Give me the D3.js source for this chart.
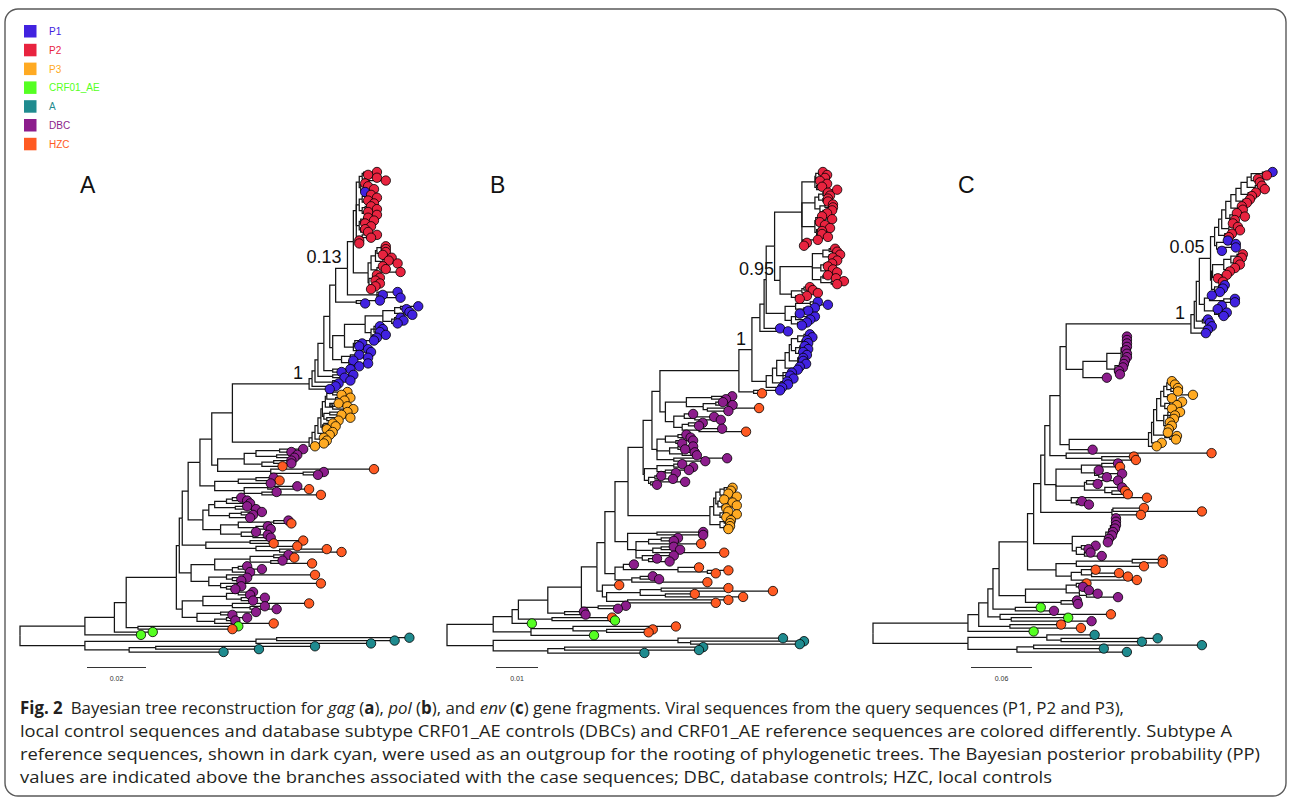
<!DOCTYPE html>
<html lang="en">
<head>
<meta charset="UTF-8">
<title>Fig. 2 Bayesian trees for gag, pol and env</title>
<script src="https://d3js.org/d3.v7.min.js"></script>
<style>
  body { margin: 0; background: #fff; }
  svg { display: block; }
  .branch { fill: none; stroke: #151515; stroke-width: 1.25px; }
  .tip { stroke: #000; stroke-width: 0.8px; }
  .support { font: 18px "Liberation Sans", Arial, sans-serif; fill: #111; }
  .panel-letter { font: 23px "Liberation Sans", Arial, sans-serif; fill: #111; }
  .bar { stroke: #333; stroke-width: 1.2px; }
  .bar-label { font: 7px "Liberation Sans", Arial, sans-serif; fill: #333; }
  .legend-label { font: 10px "Liberation Sans", Arial, sans-serif; }
  .caption { font: 17px "Open Sans", "Noto Sans", sans-serif; fill: #231f20; }
</style>
</head>
<body>
<svg id="fig" width="1290" height="799"></svg>
<script>
// groups, their one-letter codes used in the tree strings, and colours
const groups = ["P1", "P2", "P3", "CRF01_AE", "A", "DBC", "HZC"];
const groupCodes = ["b", "r", "y", "g", "c", "d", "h"];
const groupColors = ["#4122E0", "#E8233F", "#FFAA22", "#55FF22", "#1F8B8F", "#8C1D8C", "#FF5A22"];

const panelLetters = ["A", "B", "C"];
const scaleBarValues = [0.02, 0.01, 0.06];

// Trees: newick-like, tip = group code + root distance, ")n" = node root distance,
// both in 0.001 substitutions/site; "@name" pulls in another clade; "#x" = posterior.
const gagTree = [
  ["root", "(@ingroup,@outgroup)0"],
  ["outgroup", "(((c132,c127)87,c119)80,((c100,c81)46,c69)37)22"],
  ["ingroup", "((((@spine,@base1)53,(g74,h72)40)36,g45)32,g41)22"],
  ["spine", "((((((@query,@p3)72,@base6)65,@base5)61,@base4)57,@base3)55,@base2)54"],
  ["query", "(((((@p1stem,(b112,b109)106)103,(b113,b110)106)101,(b112,b108)106)100,b107)99,b105)98#1"],
  ["p1stem", "((((@p2top,@p2low)113,(b128,b123,b129)121)111#0.13,(b122,b117)114)107,@p1diag)105"],
  ["p2top", "((((r121,r118)116.5,(r121,r124)117)116,((r117,r118)116,(r120,b117)116)115.5)115,(((r119,r121)117,(r118,r120)117)116,((r119,r121)117,(r118,r121)117)116)115,(((r118,r120)116.5,r117)115.5,((r119,r117)116,r118)115.5)115,((r121,r119)116,(r115,r115)114.5)114.5)114"],
  ["p2low", "(((((r124,r124)122.5,(r124,r123)122)121,((r126,r125)124,r128)123)120.5,((r123,r124)122,r129)121)119,(((r121,r122)120,r120.5)119.5,((r122,r120.5)119.8,r119)118.6)118.3)118"],
  ["p1diag", "((((((b135,b131)129,(b132,b133)130)127,((b129,b130)127,b128)126)123,((b122,b123,b122)120,(b124,b121)119.5)119)117,((b120,b116,b115)113.5,(b118,b119)116)113)110,((b115,b118)112,(b113,(b118,b115)113)111.5)109)106"],
  ["p3", "(((((((((y111,y109)106,(y112,y110)107)104,((y108,y111)105,y113)106)103.5,((y111,y109)105,(y112,y108)104)103)102.5,((y106,y107)103,y104)102.5)102,(y106,y105)103)101,(y103,y104)102)100,y103)99,y100)98"],
  ["base6", "((((d96,d92)88,(d94,d93)87)80,((d92,d92)86,h89)82)76,(h120,(d103,d101)96)85)67"],
  ["base5", "(((d86,h88)80,d85)74,((d94,h98)84,(d87,h102)82)76)66"],
  ["base4", "(((((d75,d77)72,d78)70,(d77,d80)73)66,((d82,d79)75,d78)71)64,(((d91,h92)86,(d84,d85)80)74,(d80,(d84,d85)79)75)68)62"],
  ["base3", "((h96,h86)78,(h94,(h104,h109)88)80)63"],
  ["base2", "((((d91,h93)86,(d89,h99)85)78,((d77,d82)74,d78)72)66,((h100,(d77,d75)72)70,(h102,(d75,d73)70)68)64)58"],
  ["base1", "((((d79,d78)74,(d83,d79)75)70,(h98,(d83,d87)78)72)62,((d80,d72)68,((d77,d73)70,h86)66)60)55"]
];

const polTree = [
  ["root", "(@ingroup,@outgroup)0"],
  ["outgroup", "((c80,(c85,c84)58)55,((c61,c60)28,c47)24)11"],
  ["ingroup", "(((((((((((@top,@dbc1)48.8,@dbc2)46.7,@p3)43.1,@dbc3)40,@mix1)37.6,@mix2)35.7,(d42.6,d40.7)36)32,(d32.6,d33)28)24,(h39.3,g40)25)17,g20.2)15.5,((h54.5,(h49,h48)38)30,g35)20)11"],
  ["top", "(@query,@dbc0)50.7"],
  ["query", "((@p1p2,@p1low)72.6#1,(b79.3,h75)73)69.5"],
  ["p1p2", "((((@p2top,(@p2mid,@p2low)79.3#0.95)78,@p1up)76,b79.3)75.5,b81.2)74.5"],
  ["p2top", "((((r89.5,r90.5)88.5,(r90,r88.8)88)87.8,((r90.5,r89.3)88.5,r92.9)88)87.6,(((r90.7,r91.2)89.5,(r90.7,r90.7)89.5)88.5,((r91.9,r91.9)90,(r91.7,r90.5)89.5)88.8)87.6,(((r89.3,r91.7)88.5,(r88.8,r90)88)87.8,((r91.2,r89.3)88.5,(r89.3,r90.7)88.5)88)87.6,(r88.3,(r85.7,r85)84.8)84.7)84.5"],
  ["p2mid", "(((r92.4,r92.9)91,(r93.6,(r91.9,r92.9)91.5)91)89.5,((r91.7,r90.7)89.8,(r91.9,r92.9)90.5)89,((r90.7,r92.6)89.5,(r94.5,r92.9)91.5)89)87"],
  ["p2low", "(((r86.4,r87.1)85,r88.3)84.5,(r85.7,r84)83)82"],
  ["p1up", "(((b88.3,b90.7)86.5,(b87.6,b86)85)83,((b84,b87.6,b86.5)83,(b85.7,b84.5)83.5)82)80.5"],
  ["p1low", "((((((((b86.4,b87)85,(b85.7,b86)84.5)83.5,((b85.2,b86)84,(b84.8,b85.7)84)83)82,(b84.8,b84.8,b85.5)83.5)81.5,(b84,b83.5)82.8)80.5,(b82.1,b81.7,b82.5)80)78.5,(b81,b81.2)79.5)77.5,b79.8)76"],
  ["dbc0", "(((d67.9,d66.4)63,((d65.7,d68)64,(h74.3,d67)62)61)57,((d58.6,(d63.6,d65.2)59)56.5,((d60.9,d60)57.5,(d65.5,h71.2)60)56)54)52"],
  ["dbc1", "(((d57,d58)55,(d58.6,d56)54.5)52,((d58.6,d56.7)55,(d59,d59.5)56)53,(d66.7,d61.5)54)50"],
  ["dbc2", "(((d56,d58.6)54,(d57.6,d54.5)52)50,((d51,d53.8)49.5,(d56.7,d50)48.5)48)47"],
  ["p3", "(((((y68,y67.6)66,(y67,y69)66.5)65,((y66,y68)65.5,(y69,y66.5)65.5)64.5)64,((y67,y69)66,y66.5)65)63.5,((y67.6,y67.4)66,(y67.4,y67)66)65)62.6"],
  ["dbc3", "((d61,d61)50,(((d55,d54)51,h60.5)48,((d54,d55.5)51,h66)49,(d54,(d50,d53)48)46.5)45)43"],
  ["mix1", "((d44.5,(h60,(h67,h64)62)55)42,((d49,d50.5)46,h62)44)40"],
  ["mix2", "(h41,(((h67,h77.6)51,(h59,h70.5)52)46,(h67,h64)43)38)37"]
];

const envTree = [
  ["root", "(@ingroup,@outgroup)0"],
  ["outgroup", "((c218,(c280,c264.5)185)171,((c323.5,c227)158,c249.7)141.6)93.4"],
  ["ingroup", "((((((((((@upper,@hzc1)174,@mix1)169,@hzc2)165,@dbc2)158,@hzc3)152,@mix3)124,(g165,d178)140)118,(h234,(g192,d215)136)125)113,(h185,h204.5)134.7)104,g158)93.4"],
  ["upper", "((@query,@dbc1)190,(@p3,d216)193)184"],
  ["query", "((((@p2,@p1mid)321,(b329.4,b331.4)324)318,(b333.3,b329.4)326)316,b327.4)312.7#1"],
  ["p2", "(@p2top,@p2low)332#0.05"],
  ["p2top", "(@ladder,((b349,b356.9)347,(b356.9,b343.2)340)338)336"],
  ["ladder", "(((((((((b393,r387.4)383,(r378.6,r380.5)377)372,(r382.5,r385.4)376)368,(r376.6,r372.7)369)362,(r370.7,r367.7)364)357,(r362.8,r363.8)359)352,((r357.9,r365.8)355,(r355.9,r354)352)351)347,(r358.9,r361)350)343,(r353,r350)346)340"],
  ["p2low", "(((((r363.8,r362.8)358,(r358.9,r360.9)356)352,(r356,r351)348)345,(r348,(r339.2,r344.2)337)336)334,((b346,b344.2)340,b341.2)336)333"],
  ["p1mid", "((b333.3,(b356,b356)345)331,((b343.2,b339)337,(b348,b345)340)336)326"],
  ["dbc1", "(((((((d249.8,d249.8)248.5,d249.8)248,d249.8)247.5,(d248.8,d249.8)247)246,(d249.8,d247.8)245.5)244,((d246.8,d245.8)243,(d241.9,d242.9)240)238)230,d230)206.5"],
  ["p3", "((((((((y294,y297)291,(y300,y300)293)289,(y314.7,y294)290)286,((y304,y299)292,y294)287)283,((y302,y297,y296)290,(y292,y294,y291)289)286)279,(y290,(y299,y298)292)287)276,y284)274,y279)271"],
  ["hzc1", "(h333,(h256.6,h258.6)225)190"],
  ["mix1", "(((d241,h243)225,(d222,(d245,d230)222)218)205,((d241,d221)210,(d245,(h248,h250.7)235)228)208,(h269.4,(d205.5,d212.4)200)195)180"],
  ["hzc2", "((h266.5,h323.5)236,h263.5)235"],
  ["dbc2", "(((((((d239,d239)237,d239)236,d238)235,d236)233.5,d235)232,(d232,d231)230)229,((d219,d212)205,(d214,d225)208)200)196"],
  ["hzc3", "(((h285,h285)255,h266.5)200,((h219,(h242,h250.7)215)205,h259.6)195)180"],
  ["mix3", "(((h210,d206.5)200,(d212.4,(d221,d241)210)203)190,(d200.6,d201.6)185)150"]
];

const captionLines = [
  [["Fig. 2", "b"], ["Bayesian tree reconstruction for ", "", 8], ["gag", "i"], [" (", ""], ["a", "b"], ["), ", ""], ["pol", "i"], [" (", ""], ["b", "b"], ["), and ", ""], ["env", "i"], [" (", ""], ["c", "b"], [") gene fragments. Viral sequences from the query sequences (P1, P2 and P3),", ""]],
  [["local control sequences and database subtype CRF01_AE controls (DBCs) and CRF01_AE reference sequences are colored differently. Subtype A", ""]],
  [["reference sequences, shown in dark cyan, were used as an outgroup for the rooting of phylogenetic trees. The Bayesian posterior probability (PP)", ""]],
  [["values are indicated above the branches associated with the case sequences; DBC, database controls; HZC, local controls", ""]]
];

// layout
const panels = [
  { entries: gagTree, rootX: 20, barPx: 59, barX: 87, letterX: 80, top: 172, bottom: 652 },
  { entries: polTree, rootX: 447, barPx: 42, barX: 496, letterX: 490, top: 172, bottom: 653 },
  { entries: envTree, rootX: 873, barPx: 61, barX: 971, letterX: 958, top: 172, bottom: 652 }
];
const captionX = 20, captionY = [714, 737, 760, 783], captionWidth = [1104, 1212, 1240, 1032];

const color = d3.scaleOrdinal(groupCodes, groupColors);
const svg = d3.select("#fig");

svg.append("rect")
  .attr("x", 5).attr("y", 9).attr("width", 1281).attr("height", 787).attr("rx", 13)
  .attr("fill", "none").attr("stroke", "#5a5a5a").attr("stroke-width", 1.4);

// parse the clade strings
function parseTree(entries) {
  const defs = new Map(entries);
  function parse(str) {
    let i = 0;
    function node() {
      let n;
      if (str[i] === "@") {
        const m = /^@(\w+)/.exec(str.slice(i));
        i += m[0].length;
        return parse(defs.get(m[1]));
      }
      if (str[i] === "(") {
        i++;
        const children = [node()];
        while (str[i] === ",") { i++; children.push(node()); }
        i++;
        n = { children };
      } else {
        n = { group: str[i] };
        i++;
      }
      const num = /^[0-9.]+/.exec(str.slice(i));
      n.dist = +num[0] / 1000;
      i += num[0].length;
      if (str[i] === "#") {
        const l = /^#([0-9.]+)/.exec(str.slice(i));
        n.label = l[1];
        i += l[0].length;
      }
      return n;
    }
    return node();
  }
  return parse(entries[0][1]);
}

panels.forEach((p, k) => {
  const bar = scaleBarValues[k];
  const x = d3.scaleLinear().domain([0, bar]).range([p.rootX, p.rootX + p.barPx]);
  const root = d3.hierarchy(parseTree(p.entries));
  const leaves = root.leaves();
  const y = d3.scaleLinear().domain([0, leaves.length - 1]).range([p.top, p.bottom]);
  leaves.forEach((d, i) => { d.py = y(i); });
  root.eachAfter(d => {
    if (d.children) d.py = (d.children[0].py + d.children[d.children.length - 1].py) / 2;
    d.px = x(d.data.dist);
  });

  const g = svg.append("g");

  g.selectAll(".branch")
    .data(root.links())
    .join("path")
    .attr("class", "branch")
    .attr("d", l => `M${l.source.px},${l.source.py}V${l.target.py}H${l.target.px}`);

  g.selectAll(".tip")
    .data(leaves)
    .join("circle")
    .attr("class", "tip")
    .attr("cx", d => d.px)
    .attr("cy", d => d.py)
    .attr("r", 4.7)
    .attr("fill", d => color(d.data.group));

  // posterior probabilities
  g.selectAll(".support")
    .data(root.descendants().filter(d => d.data.label))
    .join("text")
    .attr("class", "support")
    .attr("x", d => d.px - 6)
    .attr("y", d => d.py - 5)
    .attr("text-anchor", "end")
    .text(d => d.data.label);

  g.append("text")
    .attr("class", "panel-letter")
    .attr("x", p.letterX)
    .attr("y", 193)
    .text(panelLetters[k]);

  // scale bar
  const barLen = x(bar) - x(0);
  g.append("line")
    .attr("class", "bar")
    .attr("x1", p.barX).attr("x2", p.barX + barLen)
    .attr("y1", 667.5).attr("y2", 667.5);
  g.append("text")
    .attr("class", "bar-label")
    .attr("x", p.barX + barLen / 2)
    .attr("y", 681)
    .attr("text-anchor", "middle")
    .text(d3.format(".2f")(bar));
});

// legend
const legend = svg.append("g");
groups.forEach((name, i) => {
  const c = groupColors[i];
  legend.append("rect")
    .attr("x", 24).attr("y", 25 + i * 18.8)
    .attr("width", 12.5).attr("height", 12.5)
    .attr("fill", c);
  legend.append("text")
    .attr("class", "legend-label")
    .attr("x", 49).attr("y", 31.5 + i * 18.8)
    .attr("dy", "0.35em")
    .attr("fill", c)
    .text(name);
});

// caption
captionLines.forEach((segs, i) => {
  const t = svg.append("text")
    .attr("class", "caption")
    .attr("x", captionX)
    .attr("y", captionY[i])
    .attr("textLength", captionWidth[i])
    .attr("lengthAdjust", "spacingAndGlyphs");
  segs.forEach(([str, style, dx]) => {
    const s = t.append("tspan").text(str);
    if (style === "b") s.attr("font-weight", "bold");
    if (style === "i") s.attr("font-style", "italic");
    if (dx) s.attr("dx", dx);
  });
});
</script>
</body>
</html>
